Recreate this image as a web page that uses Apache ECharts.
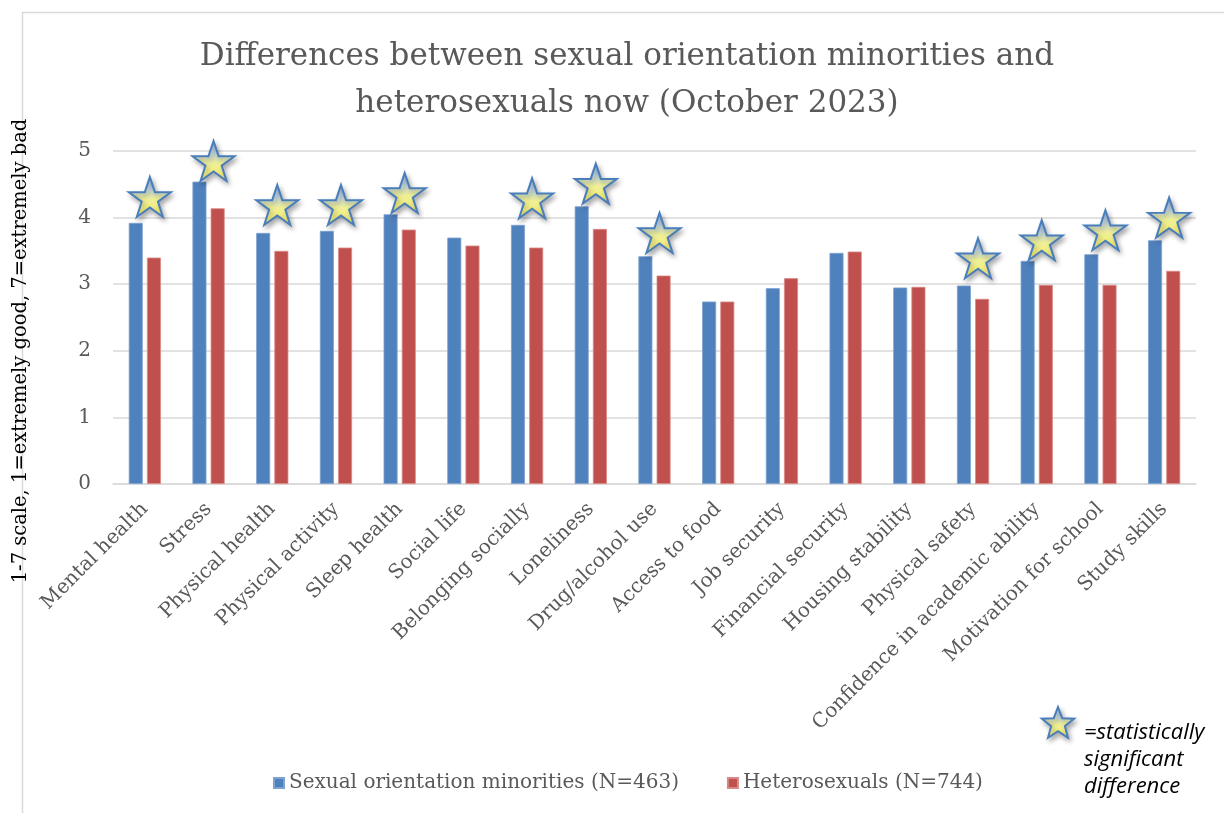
<!DOCTYPE html>
<html>
<head>
<meta charset="utf-8">
<script src="https://cdn.jsdelivr.net/npm/echarts@6/dist/echarts.min.js"></script>
<style>
html,body{margin:0;padding:0;background:#fff;}
#chart{width:1224px;height:813px;}
</style>
</head>
<body>
<div id="chart"></div>
<script>
var categories = ['Mental health','Stress','Physical health','Physical activity','Sleep health','Social life','Belonging socially','Loneliness','Drug/alcohol use','Access to food','Job security','Financial security','Housing stability','Physical safety','Confidence in academic ability','Motivation for school','Study skills'];
var minorities = [3.92,4.54,3.77,3.80,4.05,3.70,3.89,4.17,3.42,2.74,2.94,3.47,2.95,2.98,3.35,3.45,3.66];
var heterosexuals = [3.40,4.14,3.50,3.55,3.82,3.58,3.55,3.83,3.13,2.74,3.09,3.49,2.96,2.78,2.99,2.99,3.20];
// star marker heights (significant differences only)
var starY = [4.31,4.85,4.19,4.19,4.37,null,4.29,4.51,3.77,null,null,null,null,3.39,3.66,3.81,4.00];
var yTicks = [0,1,2,3,4,5];

var SERIF = '"DejaVu Serif", serif';
var STAR = 'path://M50,0 L61.8,35.1 L98.8,35.1 L68.9,56.8 L80.2,91.9 L50,70.2 L19.8,91.9 L31.1,56.8 L1.2,35.1 L38.2,35.1 Z';
var starFill = {type:'linear',x:0,y:0,x2:0,y2:1,colorStops:[{offset:0,color:'#8fb5e3'},{offset:0.3,color:'#c2d7e6'},{offset:0.55,color:'#efef98'},{offset:1,color:'#f6ee66'}]};

function starPoints(cx, cy, R, r){
  var pts=[];
  for(var i=0;i<10;i++){
    var ang = -Math.PI/2 + i*Math.PI/5;
    var rad = (i%2===0)?R:r;
    pts.push([cx+rad*Math.cos(ang), cy+rad*Math.sin(ang)]);
  }
  return pts;
}

var chart = echarts.init(document.getElementById('chart'));
chart.setOption({
  animation:false,
  backgroundColor:'#ffffff',
  title:{
    text:'Differences between sexual orientation minorities and\nheterosexuals now (October 2023)',
    left:622, textAlign:'center', top:28,
    textStyle:{fontFamily:SERIF,fontSize:31,fontWeight:'normal',color:'#595959',lineHeight:47}
  },
  legend:{
    data:['Sexual orientation minorities (N=463)','Heterosexuals (N=744)'],
    left:268, top:768, itemWidth:10, itemHeight:10, itemGap:48, icon:'rect',
    textStyle:{fontFamily:SERIF,fontSize:20,color:'#595959'}
  },
  grid:{left:113,right:28,top:151,bottom:329},
  xAxis:{
    type:'category', data:categories,
    axisLine:{lineStyle:{color:'#d9d9d9',width:1.5}},
    axisTick:{show:false},
    axisLabel:{interval:0,rotate:45,margin:22,fontFamily:SERIF,fontSize:20,color:'#595959'}
  },
  yAxis:{
    type:'value', min:0, max:5, interval:1,
    axisLine:{show:false}, axisTick:{show:false},
    splitLine:{lineStyle:{color:'#d9d9d9',width:1.5}},
    axisLabel:{margin:22,fontFamily:SERIF,fontSize:20,color:'#595959',
      formatter:function(v){return yTicks.indexOf(v)>=0?String(v):'';}}
  },
  series:[
    {name:'Sexual orientation minorities (N=463)',type:'bar',data:minorities,barWidth:14,barGap:'30%',
     itemStyle:{color:'#4f81bd',borderColor:'#7da2d1',borderWidth:0.8}},
    {name:'Heterosexuals (N=744)',type:'bar',data:heterosexuals,barWidth:14,barGap:'30%',
     itemStyle:{color:'#c0504d',borderColor:'#d98a88',borderWidth:0.8}},
    {name:'stars',type:'scatter',data:starY,symbol:STAR,symbolSize:[42,40],symbolOffset:[5,0],z:5,
     itemStyle:{color:starFill,borderColor:'#4a7ebb',borderWidth:2,shadowBlur:5,shadowOffsetX:2,shadowOffsetY:3,shadowColor:'rgba(0,0,0,0.3)',opacity:1},
     emphasis:{disabled:true}, silent:true}
  ],
  graphic:[
    {type:'rect',left:20,top:10,shape:{x:0,y:0,width:1260,height:900},
     style:{fill:'none',stroke:'#d9d9d9',lineWidth:1.5},z:-10,silent:true},
    {type:'text',x:21,y:351,rotation:Math.PI/2,
     style:{text:'1-7 scale, 1=extremely good, 7=extremely bad',font:'19.5px "DejaVu Serif", serif',fill:'#000000',textAlign:'center',textVerticalAlign:'middle'}},
    {type:'polygon',shape:{points:starPoints(1058,724,17,7.2)},
     style:{fill:starFill,stroke:'#4a7ebb',lineWidth:2,shadowBlur:5,shadowOffsetX:2,shadowOffsetY:3,shadowColor:'rgba(0,0,0,0.3)'}},
    {type:'text',x:1084,y:719,
     style:{text:'=statistically\nsignificant\ndifference',font:'italic 22px "Open Sans", sans-serif',fill:'#000000',lineHeight:27,textVerticalAlign:'top'}}
  ]
});
</script>
</body>
</html>
